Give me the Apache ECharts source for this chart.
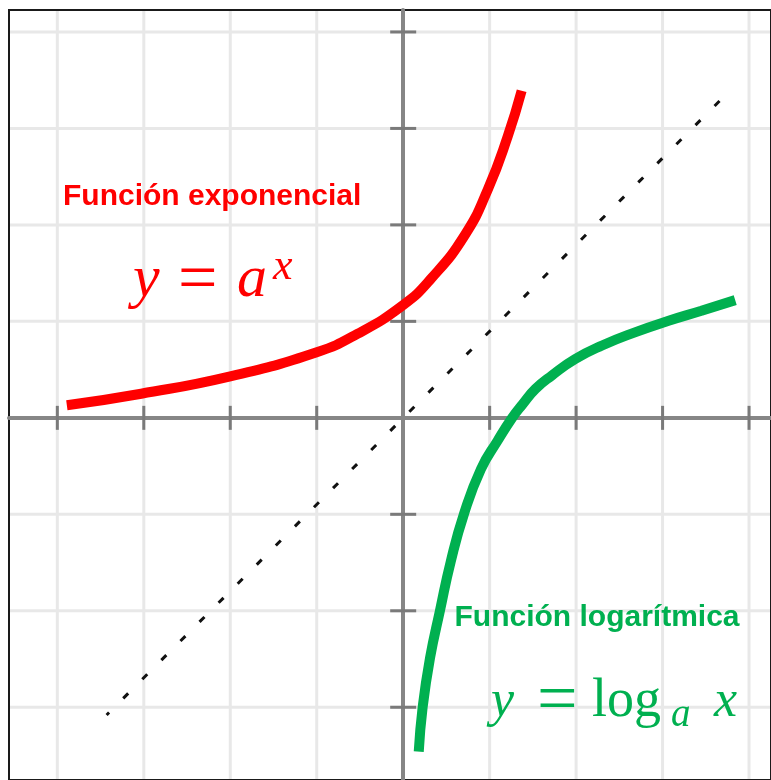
<!DOCTYPE html>
<html>
<head>
<meta charset="utf-8">
<script src="https://cdn.jsdelivr.net/npm/echarts@6/dist/echarts.min.js"></script>
<style>
  html, body { margin: 0; padding: 0; background: #ffffff; }
  #chart { width: 771px; height: 780px; }
</style>
</head>
<body>
<div id="chart"></div>
<script>
// Plot window (data units)
const X_MIN = -4.559, X_MAX = 4.254;
const Y_MIN = -3.754, Y_MAX = 4.2275;

// Grid lines and tick marks
const xGridValues = [-4, -3, -2, -1, 0, 1, 2, 3, 4];
const yGridValues = [-3, -2, -1, 0, 1, 2, 3, 4];
const xTicks = [-4, -3, -2, -1, 1, 2, 3, 4];
const yTicks = [-3, -2, -1, 1, 2, 3, 4];

// Exponential curve y = a^x
const expX = [-3.89, -3.03, -2.00, -1.00, -0.53, 0.00, 0.32, 0.71, 0.98, 1.21, 1.37];
const expY = [0.13, 0.25, 0.43, 0.68, 0.87, 1.17, 1.44, 1.89, 2.37, 2.92, 3.39];

// Logarithmic curve y = log_a x
const logX = [0.18, 0.225, 0.31, 0.425, 0.55, 0.705, 0.90, 1.09, 1.26, 1.38, 1.53, 1.72, 1.99, 2.30, 2.68, 3.07, 3.45, 3.84];
const logY = [-3.46, -3.00, -2.49, -2.00, -1.49, -0.99, -0.53, -0.24, 0.00, 0.14, 0.30, 0.44, 0.61, 0.75, 0.886, 1.006, 1.11, 1.22];

// Bisector (dotted)
const diagX = [-3.43, 3.71];
const diagY = [-3.08, 3.33];

const RED = '#ff0000';
const GREEN = '#00b050';
const zip = (a, b) => a.map((v, i) => [v, b[i]]);

const chart = echarts.init(document.getElementById('chart'), null, { renderer: 'canvas' });

function gridLineItem(vertical) {
  return function (params, api) {
    const cs = params.coordSys;
    const v = api.value(0);
    if (vertical) {
      const p = api.coord([v, 0]);
      return { type: 'line', shape: { x1: p[0], y1: cs.y, x2: p[0], y2: cs.y + cs.height },
        style: { stroke: '#e8e8e8', lineWidth: 3 } };
    }
    const p = api.coord([0, v]);
    return { type: 'line', shape: { x1: cs.x, y1: p[1], x2: cs.x + cs.width, y2: p[1] },
      style: { stroke: '#e8e8e8', lineWidth: 3 } };
  };
}

function tickItem(vertical) {
  return function (params, api) {
    if (vertical) {
      const p = api.coord([api.value(0), 0]);
      return { type: 'line', shape: { x1: p[0], y1: p[1] - 12, x2: p[0], y2: p[1] + 12 },
        style: { stroke: '#7a7a7a', lineWidth: 3 } };
    }
    const p = api.coord([0, api.value(0)]);
    return { type: 'line', shape: { x1: p[0] - 13, y1: p[1], x2: p[0] + 13, y2: p[1] },
      style: { stroke: '#7a7a7a', lineWidth: 3 } };
  };
}

const serif = '"Liberation Serif", "Times New Roman", serif';
const sans = '"Liberation Sans", Arial, sans-serif';

function txt(x, y, text, size, color, opts) {
  opts = opts || {};
  return {
    type: 'text', x: x, y: y, z: 10,
    style: {
      text: text, fill: color, fontSize: size,
      fontFamily: opts.family || serif,
      fontStyle: opts.italic ? 'italic' : 'normal',
      fontWeight: opts.bold ? 'bold' : 'normal',
      align: 'left', verticalAlign: 'middle'
    }
  };
}

const option = {
  backgroundColor: '#ffffff',
  animation: false,
  grid: {
    left: 9, top: 10, right: -2, bottom: -2,
    show: true, borderColor: '#1a1a1a', borderWidth: 2, z: 1
  },
  xAxis: {
    type: 'value', min: X_MIN, max: X_MAX, z: 1,
    axisLine: { show: true, onZero: true, lineStyle: { color: '#868686', width: 4 } },
    axisTick: { show: false }, axisLabel: { show: false }, splitLine: { show: false }
  },
  yAxis: {
    type: 'value', min: Y_MIN, max: Y_MAX, z: 1,
    axisLine: { show: true, onZero: true, lineStyle: { color: '#868686', width: 4 } },
    axisTick: { show: false }, axisLabel: { show: false }, splitLine: { show: false }
  },
  series: [
    { type: 'custom', z: 0, silent: true, clip: false,
      data: xGridValues.map(v => [v]), renderItem: gridLineItem(true) },
    { type: 'custom', z: 0, silent: true, clip: false,
      data: yGridValues.map(v => [v]), renderItem: gridLineItem(false) },
    { type: 'custom', z: 2, silent: true, clip: false,
      data: xTicks.map(v => [v]), renderItem: tickItem(true) },
    { type: 'custom', z: 2, silent: true, clip: false,
      data: yTicks.map(v => [v]), renderItem: tickItem(false) },
    { type: 'line', z: 3, silent: true, showSymbol: false,
      data: zip(diagX, diagY),
      lineStyle: { color: '#111111', width: 3, type: [7, 20], dashOffset: 3.5 } },
    { type: 'line', z: 4, silent: true, showSymbol: false, smooth: 0.5,
      data: zip(expX, expY),
      lineStyle: { color: RED, width: 10, cap: 'butt' } },
    { type: 'line', z: 4, silent: true, showSymbol: false, smooth: 0.5,
      data: zip(logX, logY),
      lineStyle: { color: GREEN, width: 10, cap: 'butt' } }
  ],
  graphic: [
    txt(63, 196.6, 'Función exponencial', 30, RED, { family: sans, bold: true }),
    txt(133, 279.8, 'y', 60, RED, { italic: true }),
    txt(178, 282.7, '=', 70, RED),
    txt(237, 279.8, 'a', 60, RED, { italic: true }),
    txt(273, 267.2, 'x', 44, RED, { italic: true }),

    txt(454.5, 617.9, 'Función logarítmica', 30, GREEN, { family: sans, bold: true }),
    txt(491, 702.5, 'y', 52, GREEN, { italic: true }),
    txt(537, 702.9, '=', 72, GREEN),
    txt(592, 701.8, 'log', 54, GREEN),
    txt(671, 716, 'a', 39, GREEN, { italic: true }),
    txt(714, 702.5, 'x', 52, GREEN, { italic: true })
  ]
};

chart.setOption(option);
</script>
</body>
</html>
